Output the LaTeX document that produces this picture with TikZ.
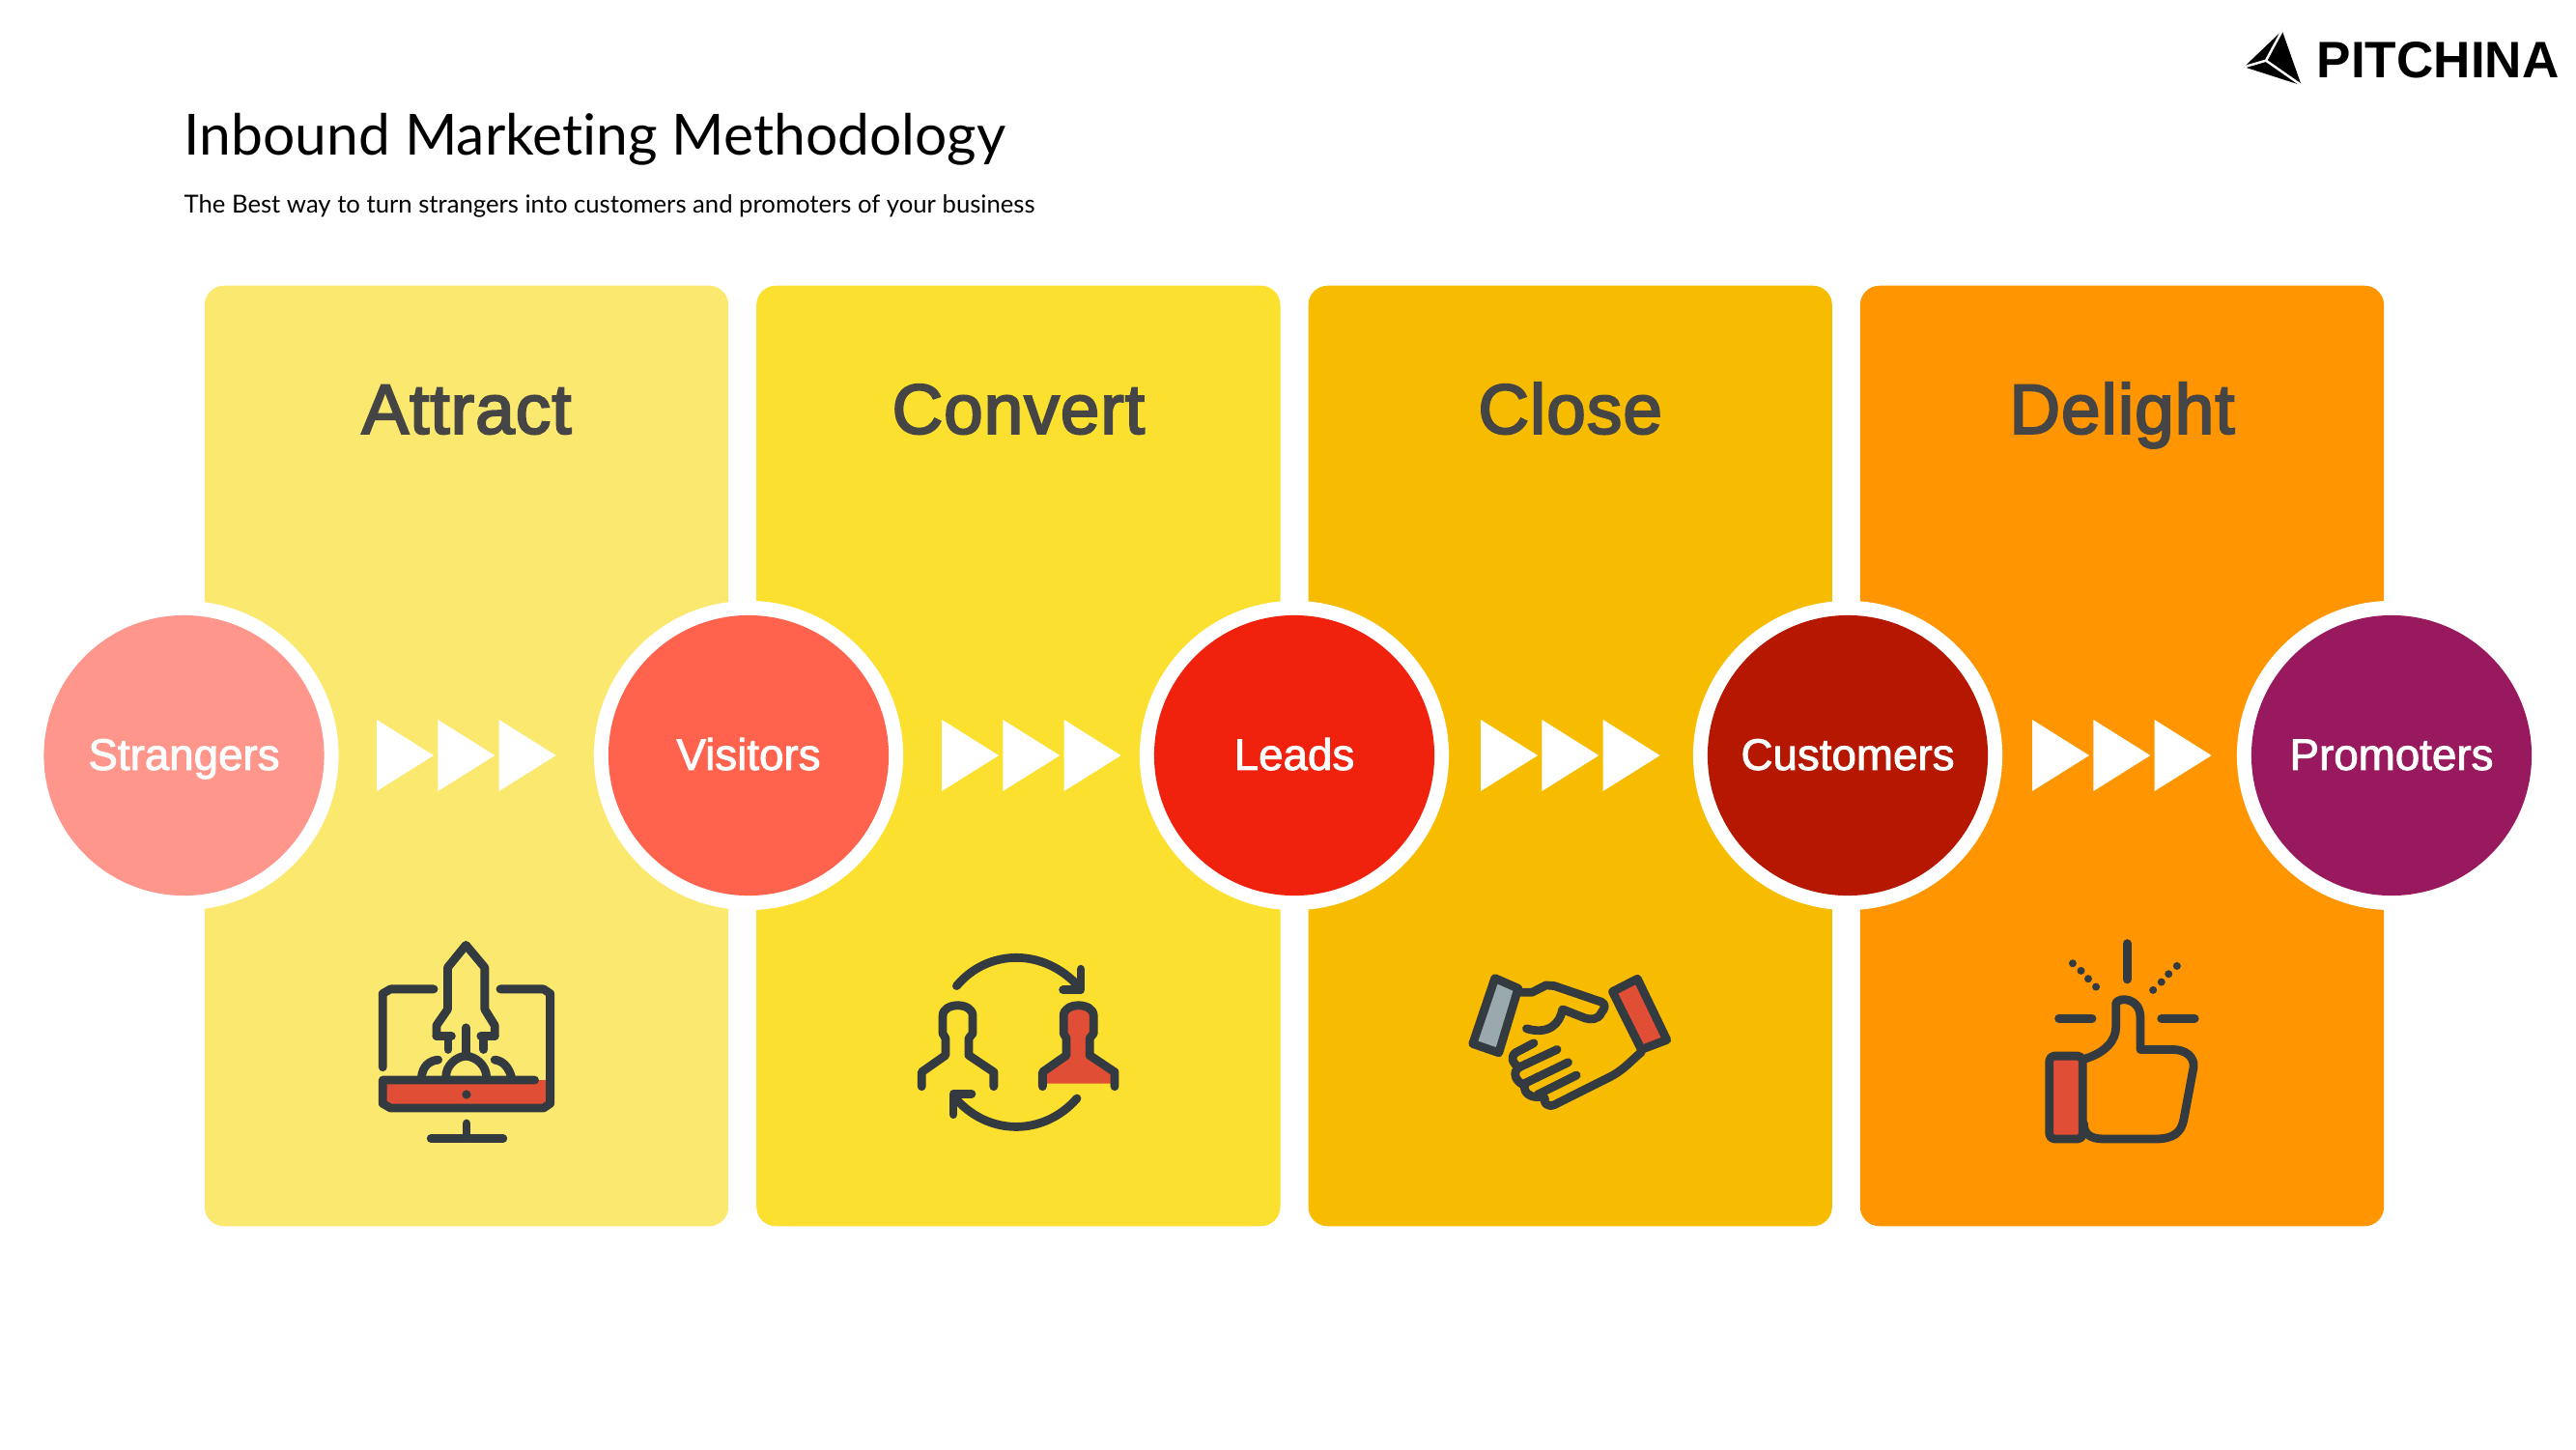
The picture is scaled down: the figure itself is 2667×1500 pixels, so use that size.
\documentclass[tikz,border=0pt]{standalone}
\usepackage{fontspec}
\setmainfont{Liberation Sans}
\newfontfamily\titlefont[Ligatures=CommonOff]{Lato}
\newfontfamily\headfont[FakeBold=3,LetterSpace=1.5]{Liberation Sans}
\newfontfamily\discfont[FakeBold=2]{Liberation Sans}
\usetikzlibrary{positioning,calc}
\definecolor{attractcol}{HTML}{FBE96F}
\definecolor{convertcol}{HTML}{FCE02F}
\definecolor{closecol}{HTML}{F7BC00}
\definecolor{delightcol}{HTML}{FF9500}
\definecolor{strangercol}{HTML}{FF968B}
\definecolor{visitorcol}{HTML}{FF634E}
\definecolor{leadcol}{HTML}{F0220D}
\definecolor{customercol}{HTML}{B51700}
\definecolor{promotercol}{HTML}{99195E}
\definecolor{iconink}{HTML}{333A40}
\definecolor{iconred}{HTML}{E04E35}
\definecolor{icongrey}{HTML}{9AA9AB}
\begin{document}
\begin{tikzpicture}[
  x=0.01cm,y=-0.01cm,
  node distance=2.9mm and 2.9mm,
  panel/.style={rounded corners=2mm,minimum width=5.42cm,minimum height=9.73cm,inner sep=0pt,outer sep=0pt},
  ring/.style={circle,fill=white,draw=none,minimum size=3.2cm,inner sep=0pt},
  disc/.style={circle,minimum size=2.9cm,inner sep=0pt,text=white,text height=10pt,text depth=1.5pt,font=\discfont\fontsize{13}{15}\selectfont},
  heading/.style={text=black!73,font=\headfont\fontsize{20.7}{24}\selectfont},
  chev/.style={fill=white,draw=none},
  ink/.style={draw=iconink,line width=2.5pt,line cap=round,line join=round},
  zoomed/.style={x=0.00574cm,y=-0.00333cm}
]
\useasboundingbox (0,0) rectangle (2667,1500);
\node[anchor=base west,inner sep=0pt,font=\titlefont\fontsize{16.7}{20}\selectfont] (title) at (190,160) {Inbound Marketing Methodology};
\node[anchor=base west,inner sep=0pt,font=\titlefont\fontsize{7.3}{9}\selectfont] (subtitle) at (190,220) {The Best way to turn strangers into customers and promoters of your business};
% panels
\node[panel,fill=attractcol] (attract) at (483,782.5) {};
\node[panel,fill=convertcol,right=of attract] (convert) {};
\node[panel,fill=closecol,right=of convert] (close) {};
\node[panel,fill=delightcol,right=of close] (delight) {};
\foreach \n/\t in {attract/Attract,convert/Convert,close/Close,delight/Delight}
  \node[heading,anchor=base] (\n-head) at ($(\n.north)+(0,153)$) {\t};
% circles
\foreach \n/\x/\c/\t in {stranger/190.5/strangercol/Strangers,visitor/775/visitorcol/Visitors,lead/1340/leadcol/Leads,customer/1913/customercol/Customers,promoter/2476/promotercol/Promoters}{
  \node[ring] (\n-ring) at (\x,782) {};
  \node[disc,fill=\c] (\n) at (\x,782) {\t};
}
% chevrons
\foreach \x in {390,975,1533,2104}
  \foreach \d in {0,63.3,126.6}
    \fill[chev] (\x+\d,745) -- (\x+\d+59,782) -- (\x+\d,819) -- cycle;
% rocket
\begin{scope}[shift={(340,950)},zoomed]
\fill[iconred] (98,505) rectangle (400,590);
\draw[ink] (190,222) -- (112,222) -- (98,236) -- (98,465);
\draw[ink] (310,222) -- (388,222) -- (400,236) -- (400,578) -- (388,592) -- (112,592) -- (98,578) -- (98,505) -- (372,505);
\fill[iconink] (249,550) ellipse (8 and 14);
\draw[ink] (249,640) -- (249,687);
\draw[ink] (185,687) -- (315,687);
\draw[ink] (195,368) -- (195,335) -- (215,285) -- (215,155) -- (248,85) -- (282,155) -- (282,285) -- (300,335) -- (300,368);
\draw[ink] (195,368) -- (222,368);
\draw[ink] (300,368) -- (275,368);
\draw[ink] (216,368) -- (216,410);
\draw[ink] (280,368) -- (280,410);
\draw[ink] (248,342) -- (248,430);
\draw[ink] (212,495) .. controls (212,460) and (230,432) .. (248,430) .. controls (266,432) and (285,460) .. (285,495);
\draw[ink] (168,495) .. controls (170,465) and (180,445) .. (198,442);
\draw[ink] (330,495) .. controls (325,465) and (315,445) .. (300,442);
\end{scope}
% people
\begin{scope}[shift={(340,950)},zoomed]
\fill[iconred] (1288,516) -- (1288,480) -- (1331,428) -- (1331,375) -- (1326,360) -- (1326,305) .. controls (1326,262) and (1380,262) .. (1380,305) -- (1380,360) -- (1373,375) -- (1373,428) -- (1418,480) -- (1418,516) -- cycle;
\foreach \s in {0,218}
  \draw[ink] (1070+\s,525) -- (1070+\s,480) -- (1113+\s,428) -- (1113+\s,375) -- (1108+\s,360) -- (1108+\s,305) .. controls (1108+\s,262) and (1162+\s,262) .. (1162+\s,305) -- (1162+\s,360) -- (1155+\s,375) -- (1155+\s,428) -- (1200+\s,480) -- (1200+\s,525);
\draw[ink] (1133,212) .. controls (1190,95) and (1290,95) .. (1352,212);
\draw[ink] (1357,160) -- (1357,225) -- (1325,225);
\draw[ink] (1350,562) .. controls (1290,680) and (1190,680) .. (1130,560);
\draw[ink] (1127,612) -- (1127,548) -- (1160,548);
\end{scope}
% handshake
\begin{scope}[shift={(1480,950)},zoomed]
\draw[ink,fill=icongrey] (118,188) -- (160,220) -- (125,420) -- (78,392) -- cycle;
\draw[ink,fill=iconred] (375,190) -- (330,230) -- (382,410) -- (428,380) -- cycle;
\draw[ink] (165,232) -- (185,232) -- (210,210) -- (225,212) -- (310,262) .. controls (320,270) and (315,285) .. (310,295) .. controls (305,318) and (290,318) .. (280,312) -- (240,285) .. controls (235,330) and (215,365) .. (175,345);
\draw[ink] (382,418) .. controls (360,450) and (350,475) .. (320,500) -- (225,582) .. controls (212,590) and (205,575) .. (208,562);
\draw[ink] (188,390) -- (155,420) .. controls (145,435) and (150,455) .. (162,465) -- (230,410);
\draw[ink] (250,450) -- (172,515);
\draw[ink] (265,490) -- (195,550);
\draw[ink] (162,465) .. controls (148,480) and (155,510) .. (172,522);
\draw[ink] (172,522) .. controls (168,545) and (185,565) .. (205,555);
\end{scope}
% thumb
\begin{scope}[shift={(1480,950)},zoomed]
\draw[ink,fill=iconred,rounded corners=0.5mm] (1118,430) rectangle (1178,688);
\draw[ink] (1258,80) -- (1258,192);
\draw[ink] (1135,313) -- (1195,313);
\draw[ink] (1320,313) -- (1380,313);
\foreach \a/\b in {1160/142,1175/165,1188/190,1202/215,1348/150,1333/175,1320/200,1305/225}
  \fill[iconink] (\a,\b) circle (0.04cm);
\draw[ink] (1180,440) .. controls (1220,420) and (1238,380) .. (1238,340) -- (1238,265) .. controls (1245,245) and (1282,250) .. (1282,310) -- (1282,410) -- (1340,410) .. controls (1365,410) and (1380,435) .. (1378,465) -- (1360,630) .. controls (1355,670) and (1340,688) .. (1310,688) -- (1215,688) .. controls (1190,688) and (1180,670) .. (1180,640);
\end{scope}
% logo
\fill[black] (2362.7,31.7) -- (2323.3,69.3) -- (2382.7,88.3) -- cycle;
\draw[white,line width=0.7pt] (2346,62.7) -- (2362.7,31.7) (2346,62.7) -- (2323.3,69.3) (2346,62.7) -- (2382.7,88.3);
\node[anchor=base west,inner sep=0pt,font=\fontsize{15.1}{18}\selectfont\bfseries] (logo) at (2398,80.5) {PITCHINA};
\end{tikzpicture}
\end{document}
